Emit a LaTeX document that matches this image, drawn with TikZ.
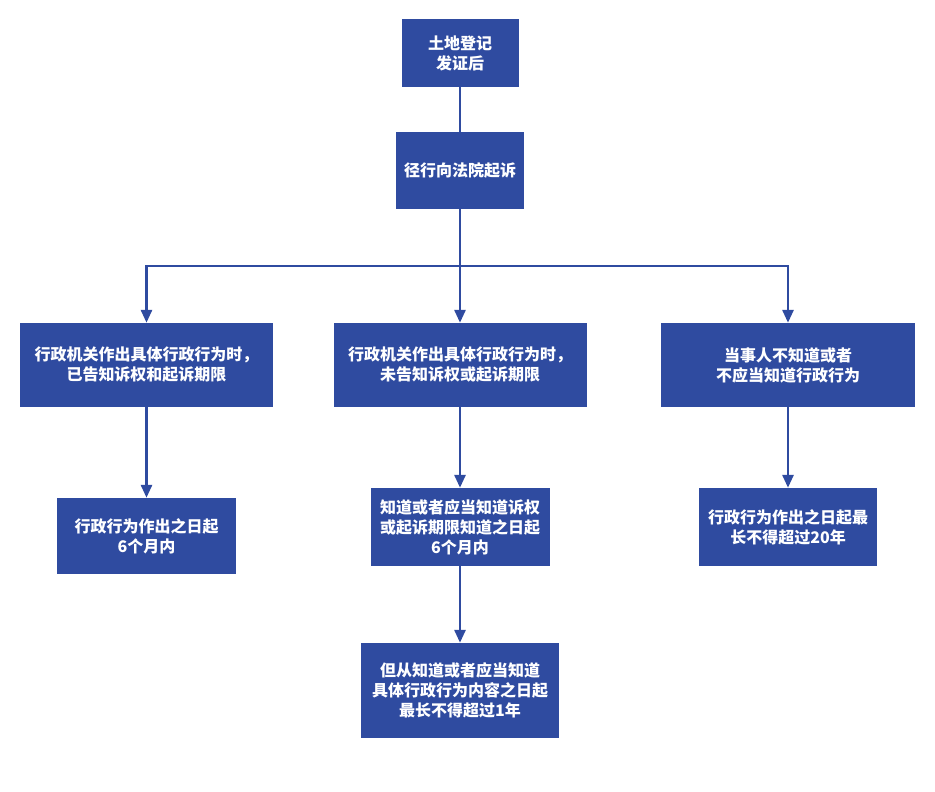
\documentclass[tikz,border=0pt]{standalone}
\usepackage{fontspec}
\newfontfamily\cjk{Noto Sans CJK SC}
\usetikzlibrary{arrows.meta}

\definecolor{boxblue}{RGB}{47,75,160}

\tikzset{
    box/.style={fill=boxblue, draw=none, text=white, align=center,
        inner sep=0pt, font=\cjk\bfseries\fontsize{16}{20}\selectfont},
    line/.style={draw=boxblue, line width=2.8pt},
    arr/.style={line, -{Triangle[length=13pt,width=11pt]}}
}

\begin{document}
\begin{tikzpicture}[x=1pt,y=-1pt]

    \useasboundingbox (0,0) rectangle (935,792);

    % top row
    \node[box, minimum width=117pt, minimum height=68pt] (reg) at (460,53) {土地登记\\发证后};
    \node[box, minimum width=128pt, minimum height=77pt] (sue) at (460,170.5) {径行向法院起诉};

    % three cases
    \node[box, minimum width=253pt, minimum height=84pt] (told) at (146.5,365) {行政机关作出具体行政行为时，\\已告知诉权和起诉期限};
    \node[box, minimum width=253pt, minimum height=84pt] (untold) at (460,365) {行政机关作出具体行政行为时，\\未告知诉权或起诉期限};
    \node[box, minimum width=254pt, minimum height=84pt] (unknown) at (788,365) {当事人不知道或者\\不应当知道行政行为};

    % time limits
    \node[box, minimum width=179pt, minimum height=76pt] (six) at (146.5,536) {行政行为作出之日起\\6个月内};
    \node[box, minimum width=179pt, minimum height=78pt] (sixknow) at (460,527) {知道或者应当知道诉权\\或起诉期限知道之日起\\6个月内};
    \node[box, minimum width=198pt, minimum height=95pt] (oneyear) at (460,690.5) {但从知道或者应当知道\\具体行政行为内容之日起\\最长不得超过1年};
    \node[box, minimum width=178pt, minimum height=78pt] (twenty) at (788,527) {行政行为作出之日起最\\长不得超过20年};

    % connectors
    \coordinate (fork) at (460,266);
    \draw[line] (reg) -- (sue);
    \draw[line] (sue.south) -- (fork);
    \draw[arr] (fork) -| (told.north);
    \draw[arr] (fork) -- (untold.north);
    \draw[arr] (fork) -| (unknown.north);

    \draw[arr] (told) -- (six);
    \draw[arr] (untold) -- (sixknow);
    \draw[arr] (sixknow) -- (oneyear);
    \draw[arr] (unknown) -- (twenty);

\end{tikzpicture}
\end{document}
